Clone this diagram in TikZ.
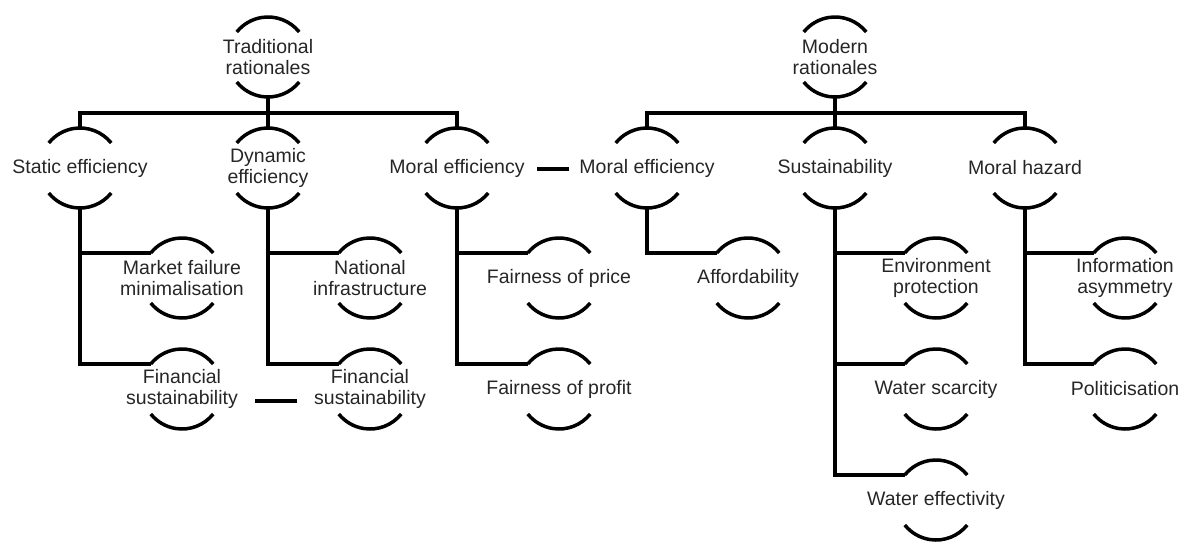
\documentclass[tikz,border=0pt]{standalone}
\usepackage{fontspec}
\setmainfont{Liberation Sans}
\usetikzlibrary{calc}
\tikzset{
  txt/.style={inner sep=0pt, align=center, text=black!85,
    font=\fontsize{19.5pt}{21pt}\selectfont},
  ln/.style={line width=3.5pt, draw=black},
  dashbar/.style={line width=4pt, draw=black},
}
\newcommand{\rnode}[4]{%
  \node[txt] (#1) at (#2,-#3) {#4};
  \draw[ln] ([shift={(38.7:40pt)}]#1.center) arc[start angle=38.7,end angle=141.3,radius=40pt];
  \draw[ln] ([shift={(-38.7:40pt)}]#1.center) arc[start angle=-38.7,end angle=-141.3,radius=40pt];
  \coordinate (#1-t) at ([yshift=40pt]#1.center);
  \coordinate (#1-b) at ([yshift=-40pt]#1.center);
  \coordinate (#1-l) at ([shift={(141.3:40pt)}]#1.center);
}
\begin{document}
\begin{tikzpicture}[x=1pt,y=1pt]
\useasboundingbox (0,0) rectangle (1183,-541);
% traditional
\rnode{trad}{268}{57}{Traditional\\rationales}
\rnode{stat}{80}{168}{Static efficiency}
\rnode{dyn}{268}{168}{Dynamic\\efficiency}
\rnode{morl}{457}{168}{Moral efficiency}
\rnode{mkt}{182}{278}{Market failure\\minimalisation}
\rnode{finl}{182}{389}{Financial\\sustainability}
\rnode{nat}{370}{278}{National\\infrastructure}
\rnode{finr}{370}{389}{Financial\\sustainability}
\rnode{fprice}{559}{278}{Fairness of price}
\rnode{fprofit}{559}{389}{Fairness of profit}
% modern
\rnode{mod}{835}{57}{Modern\\rationales}
\rnode{morr}{647}{168}{Moral efficiency}
\rnode{sus}{835}{168}{Sustainability}
\rnode{haz}{1025}{168}{Moral hazard}
\rnode{aff}{748}{278}{Affordability}
\rnode{env}{936}{278}{Environment\\protection}
\rnode{wsc}{936}{389}{Water scarcity}
\rnode{wef}{936}{500}{Water effectivity}
\rnode{info}{1125}{278}{Information\\asymmetry}
\rnode{pol}{1125}{389}{Politicisation}
% buses
\draw[ln] (trad-b) -- (dyn-t);
\draw[ln] (stat-t) -- ([yshift=15pt]stat-t) -- ([yshift=15pt]morl-t) -- (morl-t);
\draw[ln] (mod-b) -- (sus-t);
\draw[ln] (morr-t) -- ([yshift=15pt]morr-t) -- ([yshift=15pt]haz-t) -- (haz-t);
% children
\draw[ln] (stat-b) |- (mkt-l);
\draw[ln] (stat-b) |- (finl-l);
\draw[ln] (dyn-b) |- (nat-l);
\draw[ln] (dyn-b) |- (finr-l);
\draw[ln] (morl-b) |- (fprice-l);
\draw[ln] (morl-b) |- (fprofit-l);
\draw[ln] (morr-b) |- (aff-l);
\draw[ln] (sus-b) |- (env-l);
\draw[ln] (sus-b) |- (wsc-l);
\draw[ln] (sus-b) |- (wef-l);
\draw[ln] (haz-b) |- (info-l);
\draw[ln] (haz-b) |- (pol-l);
% equivalence bars
\draw[dashbar] ($(finl.center)+(73pt,-12pt)$) -- ($(finr.center)+(-73pt,-12pt)$);
\draw[dashbar] ($(morl.center)+(80pt,-1pt)$) -- ($(morr.center)+(-78pt,-1pt)$);
\end{tikzpicture}
\end{document}
